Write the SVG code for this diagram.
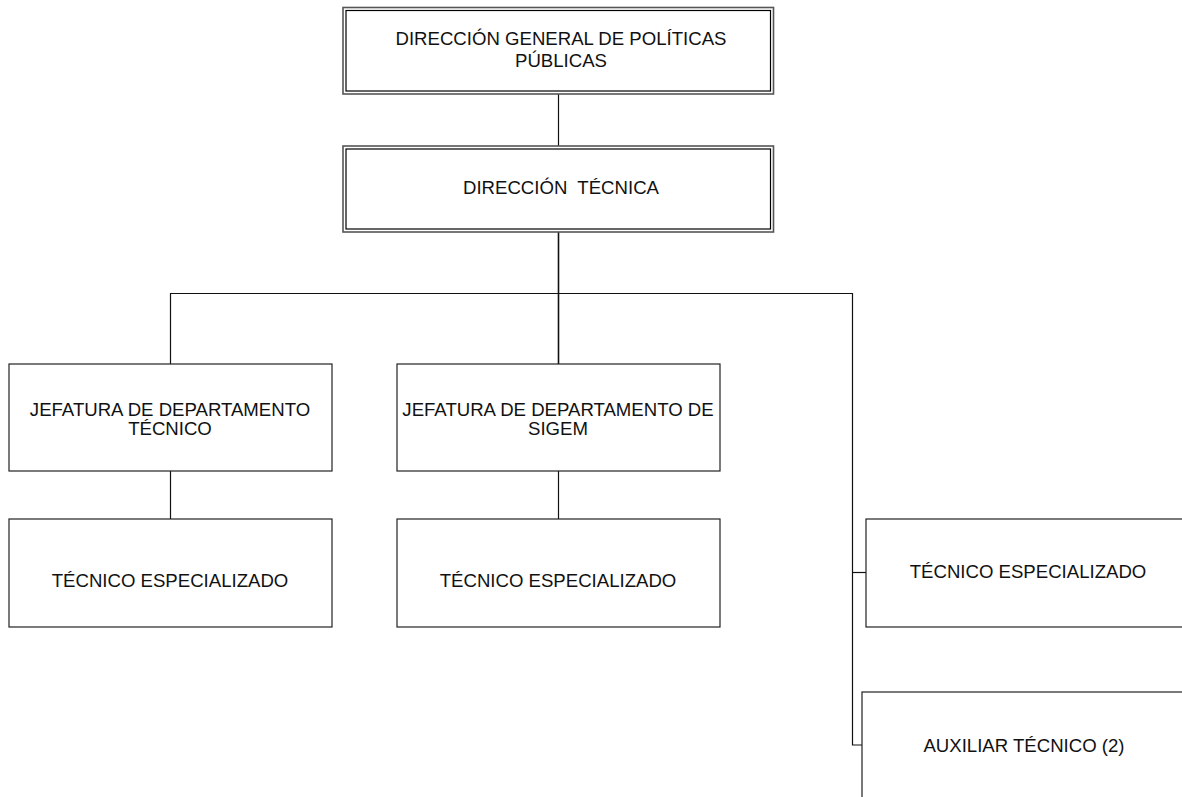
<svg xmlns="http://www.w3.org/2000/svg" width="1182" height="797" viewBox="0 0 1182 797">
<style>
.box{fill:#fff;stroke:#222;stroke-width:1.2}
.outer{fill:#fff;stroke:#555;stroke-width:1.6}
.inner{fill:none;stroke:#000;stroke-width:1.2}
.t{font-family:"Liberation Sans",Arial,sans-serif;font-size:18.6px;fill:#111;text-anchor:middle}
.c{fill:none;stroke:#111;stroke-width:1.2}
</style>
<rect width="1182" height="797" fill="#fff"/>
<g id="connectors">
<line class="c" x1="558.5" y1="94" x2="558.5" y2="146"/>
<line class="c" x1="558.5" y1="232" x2="558.5" y2="364" style="stroke-width:1.6"/>
<polyline class="c" points="170.5,364 170.5,293.5 852.5,293.5 852.5,745 862,745"/>
<line class="c" x1="852.5" y1="572.5" x2="866" y2="572.5"/>
<line class="c" x1="170.5" y1="471" x2="170.5" y2="519"/>
<line class="c" x1="558.5" y1="471" x2="558.5" y2="519"/>
</g>
<g id="n1">
<rect class="outer" x="343" y="7.5" width="430.5" height="86.5"/>
<rect class="inner" x="346" y="10.5" width="424.5" height="80.5"/>
<text class="t" x="561" y="45">DIRECCIÓN GENERAL DE POLÍTICAS</text>
<text class="t" x="561" y="67">PÚBLICAS</text>
</g>
<g id="n2">
<rect class="outer" x="343" y="146" width="430.5" height="86"/>
<rect class="inner" x="346" y="149" width="424.5" height="80"/>
<text class="t" x="561" y="194" xml:space="preserve">DIRECCIÓN  TÉCNICA</text>
</g>
<g id="n3">
<rect class="box" x="9" y="364" width="323" height="107"/>
<text class="t" x="170" y="416">JEFATURA DE DEPARTAMENTO</text>
<text class="t" x="170" y="435">TÉCNICO</text>
</g>
<g id="n4">
<rect class="box" x="397" y="364" width="323" height="107"/>
<text class="t" x="558" y="416">JEFATURA DE DEPARTAMENTO DE</text>
<text class="t" x="558" y="435">SIGEM</text>
</g>
<g id="n5">
<rect class="box" x="9" y="519" width="323" height="108"/>
<text class="t" x="170" y="587">TÉCNICO ESPECIALIZADO</text>
</g>
<g id="n6">
<rect class="box" x="397" y="519" width="323" height="108"/>
<text class="t" x="558" y="587">TÉCNICO ESPECIALIZADO</text>
</g>
<g id="n7">
<rect class="box" x="866" y="519" width="330" height="108"/>
<text class="t" x="1028" y="578">TÉCNICO ESPECIALIZADO</text>
</g>
<g id="n8">
<rect class="box" x="862" y="692" width="334" height="120"/>
<text class="t" x="1024" y="752">AUXILIAR TÉCNICO (2)</text>
</g>
</svg>
